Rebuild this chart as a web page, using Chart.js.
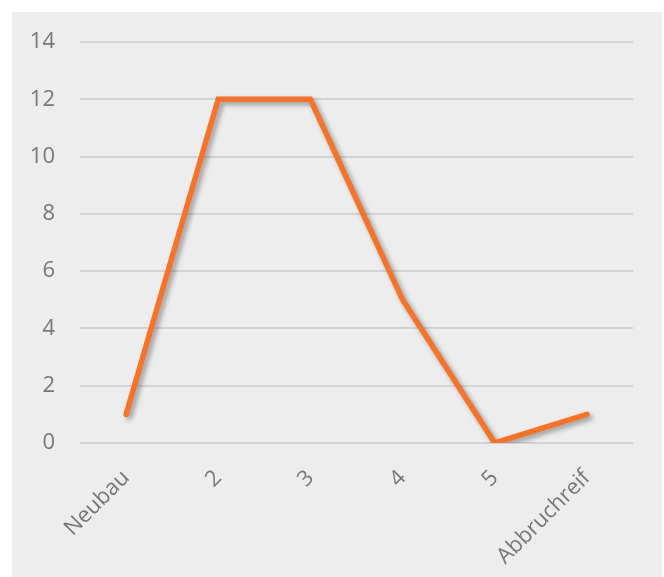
<!DOCTYPE html>
<html>
<head>
<meta charset="utf-8">
<script src="https://cdn.jsdelivr.net/npm/chart.js@4"></script>
<style>
    html, body { margin: 0; padding: 0; background: #ffffff; }
    #wrap {
        position: absolute; left: 12px; top: 12px;
        width: 650px; height: 565px; background: #ecedec;
    }
</style>
</head>
<body>
<div id="wrap"><canvas id="grafica"></canvas></div>
<script>
const categorias = ['Neubau', '2', '3', '4', '5', 'Abbruchreif'];
const valores = [1, 12, 12, 5, 0, 1];
const ticksY = [0, 2, 4, 6, 8, 10, 12, 14];

// sombra gris bajo la línea
const sombra = {
    id: 'sombra',
    beforeDatasetDraw(chart) {
        const ctx = chart.ctx;
        ctx.save();
        ctx.shadowColor = 'rgba(0, 0, 0, 0.35)';
        ctx.shadowBlur = 5;
        ctx.shadowOffsetX = 3;
        ctx.shadowOffsetY = 3;
    },
    afterDatasetDraw(chart) {
        chart.ctx.restore();
    }
};

const sinPadding = () => ({ left: 0, top: 0, right: 0, bottom: 0 });

const ctx = document.getElementById('grafica').getContext('2d');
const myChart = new Chart(ctx, {
    type: 'line',
    data: {
        labels: categorias,
        datasets: [{
            data: valores,
            borderColor: '#f5732a',
            borderWidth: 5.5,
            borderCapStyle: 'round',
            borderJoinStyle: 'miter',
            pointRadius: 0,
            tension: 0,
            fill: false
        }]
    },
    options: {
        responsive: true,
        maintainAspectRatio: false,
        animation: false,
        layout: { padding: { left: 19, right: 29, top: 30, bottom: 0 } },
        scales: {
            x: {
                offset: true,
                grid: { display: false },
                border: { display: false },
                afterFit: (axis) => {
                    axis.getPadding = sinPadding;
                    axis.height = 134;
                },
                ticks: {
                    color: '#77787b',
                    font: { family: 'Open Sans', size: 22 },
                    minRotation: 45,
                    maxRotation: 45,
                    padding: 14
                }
            },
            y: {
                min: 0,
                max: 14,
                afterBuildTicks: (axis) => { axis.ticks = ticksY.map(v => ({ value: v })); },
                afterFit: (axis) => {
                    axis.getPadding = sinPadding;
                    axis.width = 49;
                },
                grid: { color: '#d2d3d2', lineWidth: 2, drawTicks: false },
                border: { display: false },
                ticks: {
                    color: '#77787b',
                    font: { family: 'Open Sans', size: 22 },
                    padding: 25
                }
            }
        },
        plugins: {
            legend: { display: false },
            tooltip: { enabled: false }
        }
    },
    plugins: [sombra]
});
</script>
</body>
</html>
